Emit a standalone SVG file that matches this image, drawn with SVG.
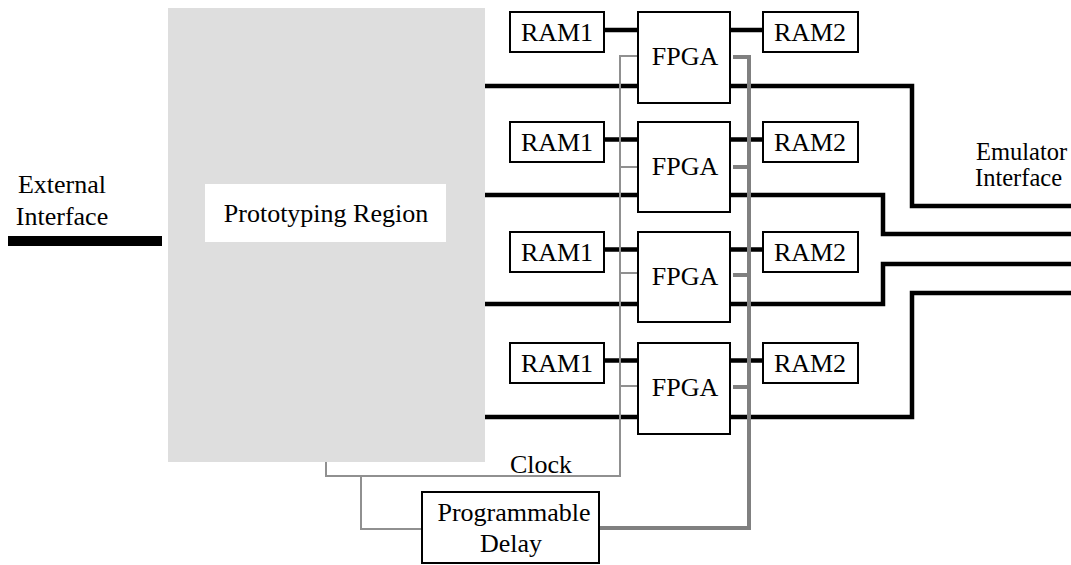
<svg xmlns="http://www.w3.org/2000/svg" width="1071" height="565" viewBox="0 0 1071 565" font-family="'Liberation Serif', 'Times New Roman', serif">
  <style>
    text { font-family: 'Liberation Serif', 'Times New Roman', serif; font-size: 26px; fill: #000; }
    .small { font-size: 24.5px; }
    .box { fill: #fff; stroke: #000; stroke-width: 2; }
    .bus { fill: none; stroke: #000; stroke-width: 4.5; stroke-linejoin: miter; }
    .clk { fill: none; stroke: #909090; stroke-width: 2; }
    .dly { fill: none; stroke: #808080; stroke-width: 4; }
  </style>
  <rect width="1071" height="565" fill="#fff"/>

  <!-- prototyping region -->
  <g id="prototyping-region">
    <rect x="168" y="8" width="317" height="454" fill="#dedede"/>
    <rect x="205" y="184" width="241" height="58" fill="#fff"/>
    <text x="326" y="222" text-anchor="middle">Prototyping Region</text>
  </g>

  <!-- external interface -->
  <g id="external-interface">
    <rect x="8" y="236" width="154" height="10" fill="#000"/>
    <text x="62" y="193" text-anchor="middle">External</text>
    <text x="62" y="225" text-anchor="middle">Interface</text>
  </g>

  <!-- emulator interface label -->
  <g id="emulator-interface">
    <text class="small" x="976" y="160">Emulator</text>
    <text class="small" x="975" y="186">Interface</text>
  </g>

  <g id="connectors">
    <!-- RAM to FPGA links -->
    <path class="bus" d="M604 30H638M730 30H763"/>
    <path class="bus" d="M604 139.5H638M730 139.5H763"/>
    <path class="bus" d="M604 249.5H638M730 249.5H763"/>
    <path class="bus" d="M604 360.5H638M730 360.5H763"/>
    <!-- buses from the prototyping region -->
    <path class="bus" d="M485 86H638"/>
    <path class="bus" d="M485 195H638"/>
    <path class="bus" d="M485 304H638"/>
    <path class="bus" d="M485 417H638"/>
    <!-- buses to the emulator interface -->
    <path class="bus" d="M730 86H912V206H1071"/>
    <path class="bus" d="M730 195H883V234H1071"/>
    <path class="bus" d="M730 304H883V264H1071"/>
    <path class="bus" d="M730 417H912V293H1071"/>
    <!-- clock distribution -->
    <path class="clk" d="M326 462V476H620V56H637"/>
    <path class="clk" d="M620 167H637M620 273H637M620 386H637"/>
    <path class="clk" d="M361 476V529H422"/>
    <!-- delayed clock -->
    <path class="dly" d="M600 528H749V57H733"/>
    <path class="dly" d="M749 167H733M749 275H733M749 387H733"/>
  </g>

  <!-- row 1 -->
  <g id="ram1-a"><rect class="box" x="510" y="12" width="94" height="40"/><text x="557" y="41" text-anchor="middle">RAM1</text></g>
  <g id="fpga-a"><rect class="box" x="638" y="12" width="92" height="91"/><text x="685" y="65" text-anchor="middle">FPGA</text></g>
  <g id="ram2-a"><rect class="box" x="763" y="12" width="95" height="40"/><text x="810" y="41" text-anchor="middle">RAM2</text></g>

  <!-- row 2 -->
  <g id="ram1-b"><rect class="box" x="510" y="122" width="94" height="40"/><text x="557" y="151" text-anchor="middle">RAM1</text></g>
  <g id="fpga-b"><rect class="box" x="638" y="122" width="92" height="90"/><text x="685" y="175" text-anchor="middle">FPGA</text></g>
  <g id="ram2-b"><rect class="box" x="763" y="122" width="95" height="40"/><text x="810" y="151" text-anchor="middle">RAM2</text></g>

  <!-- row 3 -->
  <g id="ram1-c"><rect class="box" x="510" y="232" width="94" height="40"/><text x="557" y="261" text-anchor="middle">RAM1</text></g>
  <g id="fpga-c"><rect class="box" x="638" y="232" width="92" height="90"/><text x="685" y="285" text-anchor="middle">FPGA</text></g>
  <g id="ram2-c"><rect class="box" x="763" y="232" width="95" height="40"/><text x="810" y="261" text-anchor="middle">RAM2</text></g>

  <!-- row 4 -->
  <g id="ram1-d"><rect class="box" x="510" y="343" width="94" height="40"/><text x="557" y="372" text-anchor="middle">RAM1</text></g>
  <g id="fpga-d"><rect class="box" x="638" y="343" width="92" height="91"/><text x="685" y="396" text-anchor="middle">FPGA</text></g>
  <g id="ram2-d"><rect class="box" x="763" y="343" width="95" height="40"/><text x="810" y="372" text-anchor="middle">RAM2</text></g>

  <!-- clock label -->
  <g id="clock-label"><text x="510" y="473">Clock</text></g>

  <!-- programmable delay -->
  <g id="programmable-delay">
    <rect class="box" x="422" y="492" width="177" height="71"/>
    <text x="514" y="521" text-anchor="middle">Programmable</text>
    <text x="511" y="552" text-anchor="middle">Delay</text>
  </g>
</svg>
